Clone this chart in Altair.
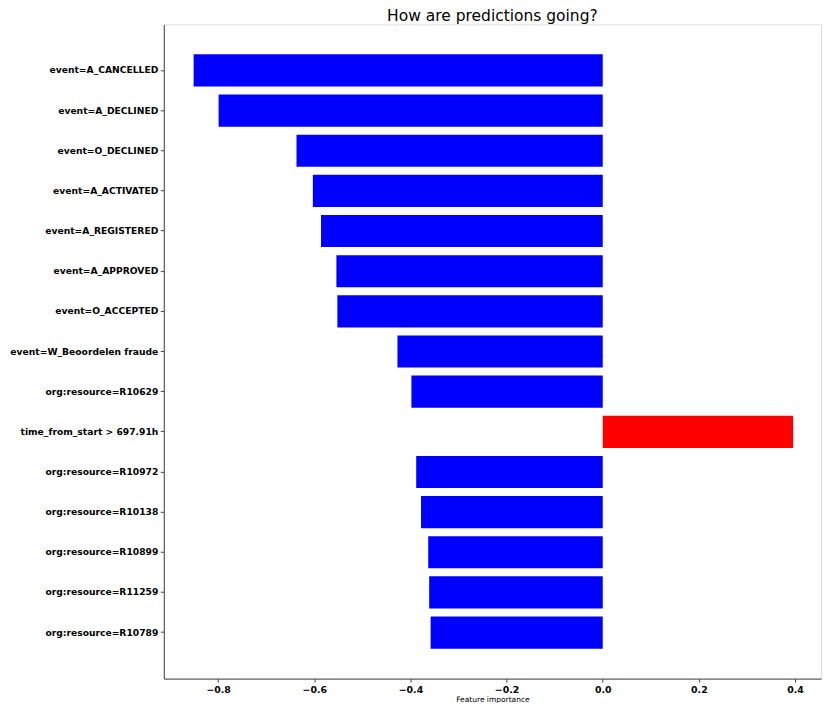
import altair as alt
import pandas as pd

features = [
    "event=A_CANCELLED",
    "event=A_DECLINED",
    "event=O_DECLINED",
    "event=A_ACTIVATED",
    "event=A_REGISTERED",
    "event=A_APPROVED",
    "event=O_ACCEPTED",
    "event=W_Beoordelen fraude",
    "org:resource=R10629",
    "time_from_start > 697.91h",
    "org:resource=R10972",
    "org:resource=R10138",
    "org:resource=R10899",
    "org:resource=R11259",
    "org:resource=R10789",
]
importance = [
    -0.851, -0.799, -0.637, -0.603, -0.586, -0.554, -0.552,
    -0.427, -0.398, 0.396, -0.388, -0.378, -0.363, -0.361, -0.358,
]
x_ticks = [-0.8, -0.6, -0.4, -0.2, 0.0, 0.2, 0.4]

df = pd.DataFrame({"feature": features, "importance": importance})
df["sign"] = ["pos" if v > 0 else "neg" for v in importance]

FONT = "DejaVu Sans"

chart = (
    alt.Chart(df)
    .mark_bar(stroke=None)
    .encode(
        x=alt.X(
            "importance:Q",
            title="Feature importance",
            scale=alt.Scale(domain=[-0.913, 0.454], nice=False, zero=False),
            axis=alt.Axis(
                values=x_ticks,
                format=".1f",
                grid=False,
                labelFont=FONT,
                labelFontWeight="bold",
                labelFontSize=9.4,
                labelColor="black",
                labelPadding=3,
                tickSize=3.5,
                tickColor="#444",
                domainColor="#444",
                titleFont=FONT,
                titleFontSize=7.5,
                titleFontWeight="normal",
                titleColor="black",
                titlePadding=2,
            ),
        ),
        y=alt.Y(
            "feature:N",
            sort=features,
            title=None,
            scale=alt.Scale(paddingInner=0.2, paddingOuter=0.746),
            axis=alt.Axis(
                grid=False,
                labelFont=FONT,
                labelFontWeight="bold",
                labelFontSize=9.2,
                labelColor="black",
                labelPadding=2.5,
                tickSize=3.5,
                tickColor="#444",
                domainColor="#444",
                labelLimit=300,
            ),
        ),
        color=alt.Color(
            "sign:N",
            scale=alt.Scale(domain=["neg", "pos"], range=["#0000ff", "#ff0000"]),
            legend=None,
        ),
    )
    .properties(
        width=658,
        height=655,
        title=alt.Title(
            "How are predictions going?",
            font=FONT,
            fontSize=15.5,
            fontWeight="normal",
            color="black",
            anchor="middle",
            frame="group",
            offset=0,
        ),
        padding={"left": 156, "top": 16, "right": 1, "bottom": 24},
        autosize=alt.AutoSizeParams(type="none"),
    )
    .configure_view(stroke="#444", strokeWidth=1)
    .configure(background="white")
)

chart.save("out.html", embed_options={"renderer": "svg", "actions": False})
